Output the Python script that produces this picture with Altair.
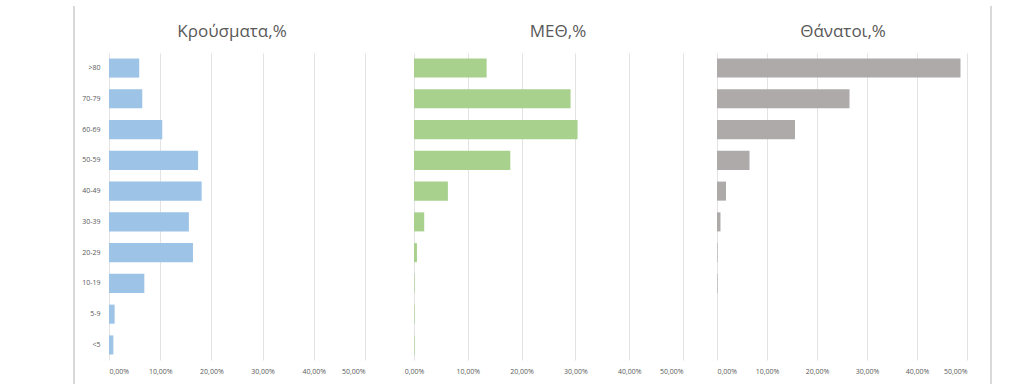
import altair as alt
import pandas as pd

ages = [">80", "70-79", "60-69", "50-59", "40-49", "30-39", "20-29", "10-19", "5-9", "<5"]
cases = [5.9, 6.5, 10.4, 17.4, 18.1, 15.6, 16.4, 6.9, 1.1, 0.85]
icu = [13.5, 29.1, 30.4, 17.9, 6.3, 1.9, 0.55, 0.1, 0.1, 0.1]
deaths = [48.7, 26.5, 15.6, 6.5, 1.8, 0.7, 0.1, 0.1, 0.0, 0.0]
titles = ["Κρούσματα,%", "ΜΕΘ,%", "Θάνατοι,%"]
colors = ["#9DC3E6", "#A9D18E", "#AEAAAA"]
tick_values = [0, 0.1, 0.2, 0.3, 0.4, 0.5]

FONT = "Open Sans"
TXT = "#595959"
GRID = "#e3e3e3"
H = 307

label_expr = "replace(format(datum.value, '.2%'), '.', ',')"


def panel(values, title, color, width, domain, show_y, title_x, border_x=None):
    df = pd.DataFrame({"age": ages, "value": [v / 100 for v in values]})
    yaxis = alt.Axis(
        title=None, ticks=False, domain=False, grid=False,
        labels=show_y, labelFontSize=7, labelColor=TXT, labelFont=FONT,
        labelPadding=9,
    )
    bars = alt.Chart(df).mark_bar(color=color).encode(
        x=alt.X("value:Q", scale=alt.Scale(domain=domain, nice=False, zero=False),
                axis=alt.Axis(title=None, values=tick_values, labelExpr=label_expr,
                              ticks=False, domain=False, grid=True, gridColor=GRID,
                              gridWidth=1, labelFontSize=7, labelColor=TXT,
                              labelFont=FONT, labelPadding=7)),
        y=alt.Y("age:N", sort=ages,
                scale=alt.Scale(paddingInner=0.38, paddingOuter=0.18),
                axis=yaxis),
    )
    title_df = pd.DataFrame({"t": [title]})
    ttl = alt.Chart(title_df).mark_text(
        font=FONT, fontSize=17, color=TXT, align="center", baseline="alphabetic"
    ).encode(text="t:N", x=alt.value(title_x), y=alt.value(-16))
    layers = [bars, ttl]
    if border_x is not None:
        rule_df = pd.DataFrame({"k": [0]})
        rule = alt.Chart(rule_df).mark_rule(color="#d9d9d9", strokeWidth=2).encode(
            x=alt.value(border_x), y=alt.value(-47), y2=alt.value(331)
        )
        layers.append(rule)
    return alt.layer(*layers).properties(width=width, height=H)


p1 = panel(cases, titles[0], colors[0], 256, [0, 0.5], True, 231 - 108, border_x=-35)
p2 = panel(icu, titles[1], colors[1], 284, [-0.02788, 0.5], False, 557 - 398)
p3 = panel(deaths, titles[2], colors[2], 250, [0, 0.5], False, 842 - 716, border_x=274)

chart = alt.hconcat(p1, p2, p3, spacing=34, bounds="flush").properties(
    padding={"left": 73, "top": 5, "right": 30, "bottom": 8},
    background="white",
).configure_view(stroke=None)

chart.save("out.html", embed_options={"renderer": "svg", "actions": False})
